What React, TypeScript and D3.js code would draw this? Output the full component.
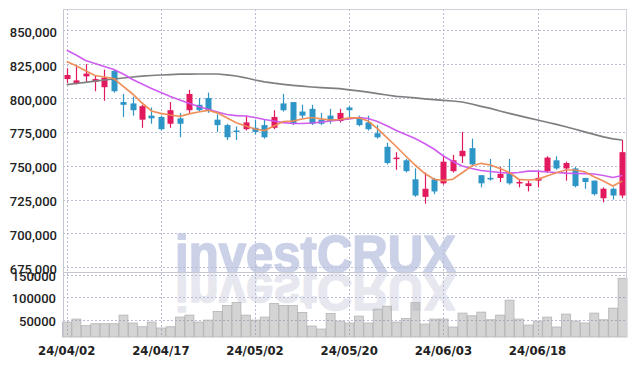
import React from 'react';
import * as d3 from 'd3';

const dates = [
  "24/04/02","24/04/03","24/04/04","24/04/05","24/04/08","24/04/09","24/04/11","24/04/12","24/04/15","24/04/16",
  "24/04/17","24/04/18","24/04/19","24/04/22","24/04/23","24/04/24","24/04/25","24/04/26","24/04/29","24/04/30",
  "24/05/02","24/05/03","24/05/07","24/05/08","24/05/09","24/05/10","24/05/13","24/05/14","24/05/16","24/05/17",
  "24/05/20","24/05/21","24/05/22","24/05/23","24/05/24","24/05/27","24/05/28","24/05/29","24/05/30","24/05/31",
  "24/06/03","24/06/04","24/06/05","24/06/07","24/06/10","24/06/11","24/06/12","24/06/13","24/06/14","24/06/17",
  "24/06/18","24/06/19","24/06/20","24/06/21","24/06/24","24/06/25","24/06/26","24/06/27","24/06/28","24/07/01",
];

const opens = [
  814000, 811000, 816000, 812000, 808000, 820000, 797000, 796000, 784000, 787000,
  786000, 781000, 785000, 791000, 795000, 800000, 784000, 780000, 776000, 777000,
  778000, 780000, 778000, 796000, 797000, 790000, 792000, 784000, 787000, 783000,
  793000, 786000, 782000, 774000, 764000, 755000, 754000, 740000, 727000, 740000,
  737000, 746000, 757000, 763000, 743000, 741000, 741000, 744000, 737000, 735000,
  739000, 746000, 754000, 748000, 748000, 741000, 739000, 726000, 733000, 728000,
];
const highs = [
  822000, 824000, 825000, 817000, 821000, 821000, 803000, 801000, 795000, 793000,
  787000, 797000, 789000, 806000, 800000, 804000, 788000, 781000, 779000, 787000,
  784000, 784000, 791000, 803000, 797000, 795000, 795000, 789000, 792000, 792000,
  794000, 787000, 787000, 780000, 767000, 760000, 755000, 748000, 745000, 741000,
  757000, 758000, 775000, 770000, 743000, 755000, 749000, 755000, 740000, 739000,
  746000, 757000, 757000, 753000, 749000, 741000, 739000, 734000, 734000, 769000,
];
const lows = [
  811000, 810000, 812000, 805000, 798000, 804000, 786000, 787000, 778000, 781000,
  776000, 778000, 771000, 789000, 790000, 789000, 775000, 769000, 769000, 776000,
  773000, 770000, 777000, 790000, 780000, 785000, 780000, 780000, 781000, 782000,
  786000, 779000, 776000, 770000, 751000, 747000, 745000, 727000, 722000, 729000,
  736000, 745000, 752000, 750000, 734000, 739000, 738000, 736000, 734000, 731000,
  734000, 745000, 747000, 739000, 734000, 733000, 728000, 723000, 725000, 726000,
];
const closes = [
  817000, 813000, 818000, 814000, 815000, 805000, 795000, 791000, 794000, 785000,
  777000, 791000, 781000, 803000, 791000, 791000, 780000, 771000, 775000, 782000,
  775000, 771000, 786000, 791000, 781000, 787000, 781000, 781000, 783000, 789000,
  791000, 780000, 777000, 771000, 752000, 756000, 746000, 728000, 733000, 731000,
  753000, 754000, 761000, 751000, 737000, 740000, 744000, 737000, 738000, 737000,
  741000, 756000, 748000, 752000, 735000, 738000, 729000, 733000, 728000, 760000,
];

const ma5 = [
  826960, 823860, 820170, 816620, 815520, 814410, 808650, 802960, 796320, 790410,
  788710, 787460, 786500, 788340, 789670, 790930, 789080, 785390, 781770, 779340,
  777120, 776010, 779340, 782660, 782880, 784500, 785610, 784650, 783770, 784130,
  785390, 785390, 783030, 777340, 770840, 764200, 757180, 750540, 744410, 739980,
  738940, 739980, 744850, 749800, 751790, 750540, 747950, 745000, 739980, 739460,
  739980, 742420, 744850, 746850, 746850, 745590, 741900, 738720, 735030, 738720,
];
const ma20 = [
  835230, 831760, 827700, 825490, 823270, 821050, 817730, 813670, 810350, 807030,
  804070, 801120, 798530, 796100, 793730, 791670, 789670, 787830, 786940, 786720,
  785610, 784130, 783030, 781770, 781180, 781180, 781550, 782140, 783030, 783770,
  784500, 785610, 784870, 782660, 779560, 776010, 773060, 770110, 766410, 762350,
  757180, 753120, 749800, 747950, 746480, 745740, 745000, 744480, 745000, 745960,
  745960, 745370, 745000, 744480, 744260, 744110, 743890, 742780, 741310, 742780,
];
const ma60 = [
  809830, 810720, 811600, 812420, 813300, 814040, 814780, 815520, 816110, 816620,
  816990, 817290, 817580, 817660, 817730, 817730, 817730, 817140, 816260, 814930,
  813300, 811970, 810940, 810130, 809390, 808720, 808130, 807620, 807250, 806880,
  806070, 805330, 804290, 803260, 802230, 801270, 800750, 800160, 799420, 798830,
  798310, 797800, 797060, 795580, 793880, 792330, 790410, 788710, 787010, 785390,
  783770, 782140, 780590, 778820, 776900, 775050, 773130, 771290, 769880, 769000,
];

const volumes = [
  44900, 51600, 36700, 41100, 41100, 41100, 60400, 42700, 34400, 44900,
  31600, 34400, 56000, 60400, 44900, 49300, 68400, 81800, 88400, 60400,
  49300, 56000, 86200, 81800, 81800, 66200, 36000, 29300, 64000, 47100,
  42700, 58200, 42700, 73800, 80400, 44900, 52900, 88400, 40400, 51600,
  51600, 33800, 64900, 58900, 67100, 50000, 60400, 93800, 51600, 38200,
  47100, 56000, 33800, 62700, 47100, 42700, 64900, 50000, 76000, 142700,
];

const priceTicks = [675000, 700000, 725000, 750000, 775000, 800000, 825000, 850000];
const volumeTicks = [50000, 100000, 150000];
const dateTicks = ["24/04/02", "24/04/17", "24/05/02", "24/05/20", "24/06/03", "24/06/18"];

const W = 636;
const H = 366;
const LEFT = 62;
const RIGHT = 627;
const TOP = 9;
const PRICE_BOTTOM = 272;
const VOL_TOP = 273;
const VOL_BOTTOM = 337;

const UP = '#e2195f';
const DOWN = '#2e95c7';
const GRID = '#b9bed6';

export default function App() {
  const idx = d3.range(dates.length);
  const x = d3.scaleBand<number>().domain(idx).range([LEFT, RIGHT]).padding(0);
  const bw = x.bandwidth();
  const cx = (i: number) => (x(i) as number) + bw / 2;
  const y = d3.scaleLinear().domain([671530, 865730]).range([PRICE_BOTTOM, TOP]);
  const yv = d3.scaleLinear().domain([11500, 154500]).range([VOL_BOTTOM, VOL_TOP]);
  const fmt = d3.format(',');

  const mkLine = (arr: number[]) =>
    d3.line<number>().x((_, i) => cx(i)).y((v) => y(v))(arr) || '';

  const bodyW = 6;
  const wmX = 175;
  const wmY = PRICE_BOTTOM;

  return (
    <svg width={W} height={H} style={{ position: 'absolute', left: 0, top: 0, background: '#fff' }}
      xmlns="http://www.w3.org/2000/svg">
      <rect x={0} y={0} width={W} height={H} fill="#fff" />
      {/* watermark */}
      <text x={wmX} y={wmY} fontFamily="'Liberation Sans', Arial, sans-serif" fontWeight={700}
        fontSize={51} textLength={281} lengthAdjust="spacingAndGlyphs" fill="#cbd1e7"
        stroke="#cbd1e7" strokeWidth={1.6} strokeLinejoin="round">investCRUX</text>
      <g transform={`translate(0, ${2 * wmY + 2}) scale(1,-1)`}>
        <text x={wmX} y={wmY} fontFamily="'Liberation Sans', Arial, sans-serif" fontWeight={700}
          fontSize={51} textLength={281} lengthAdjust="spacingAndGlyphs" fill="#e7e8ef"
          stroke="#e7e8ef" strokeWidth={1.6} strokeLinejoin="round">investCRUX</text>
      </g>

      {/* grid */}
      {priceTicks.map((t) => (
        <line key={'pg' + t} x1={LEFT + 1} x2={RIGHT} y1={Math.round(y(t)) + 0.5} y2={Math.round(y(t)) + 0.5}
          stroke={GRID} strokeDasharray="2,2" strokeWidth={1} />
      ))}
      {volumeTicks.map((t) => (
        <line key={'vg' + t} x1={LEFT + 1} x2={RIGHT} y1={Math.round(yv(t)) + 0.5} y2={Math.round(yv(t)) + 0.5}
          stroke={GRID} strokeDasharray="2,2" strokeWidth={1} />
      ))}
      {dateTicks.map((d) => {
        const i = dates.indexOf(d);
        const xx = Math.round(cx(i)) + 0.5;
        return (
          <line key={'xg' + d} x1={xx} x2={xx} y1={TOP} y2={VOL_BOTTOM}
            stroke={GRID} strokeDasharray="2,2" strokeWidth={1} />
        );
      })}

      {/* volume bars */}
      {volumes.map((v, i) => (
        <rect key={'v' + i} x={(x(i) as number) + 0.5} y={yv(v)} width={bw - 0.5}
          height={VOL_BOTTOM - yv(v)} fill="#8e8e8e" fillOpacity={0.38} stroke="#b4b4b4" strokeWidth={0.8} />
      ))}

      {/* candles */}
      {idx.map((i) => {
        const o = opens[i], c = closes[i], h = highs[i], l = lows[i];
        const col = c >= o ? UP : DOWN;
        const xx = Math.round(cx(i)) + 0.5;
        const top = y(Math.max(o, c));
        const bot = y(Math.min(o, c));
        const bh = Math.max(1.5, bot - top);
        return (
          <g key={'c' + i}>
            <line x1={xx} x2={xx} y1={y(h)} y2={y(l)} stroke={col} strokeWidth={1.2} />
            <rect x={xx - bodyW / 2} y={top} width={bodyW} height={bh} fill={col} />
          </g>
        );
      })}

      {/* moving averages */}
      <path d={mkLine(ma60)} fill="none" stroke="#7f7f7f" strokeWidth={1.7} />
      <path d={mkLine(ma20)} fill="none" stroke="#cc55ee" strokeWidth={1.7} strokeOpacity={0.95} />
      <path d={mkLine(ma5)} fill="none" stroke="#ee8a52" strokeWidth={1.7} strokeOpacity={0.95} />

      {/* frame */}
      <line x1={63.5} x2={63.5} y1={TOP} y2={VOL_BOTTOM} stroke="#c4c6d0" strokeWidth={1} />
      <line x1={RIGHT - 0.5} x2={RIGHT - 0.5} y1={TOP} y2={VOL_BOTTOM} stroke="#d0d2da" strokeWidth={1} />
      <line x1={63} x2={RIGHT} y1={TOP + 0.5} y2={TOP + 0.5} stroke="#d0d2da" strokeWidth={1} />
      <line x1={63} x2={RIGHT} y1={PRICE_BOTTOM + 0.5} y2={PRICE_BOTTOM + 0.5} stroke="#c4c6d0" strokeWidth={1} />

      {/* y labels */}
      {priceTicks.map((t) => (
        <text key={'pl' + t} x={57} y={y(t) + 2} textAnchor="end" dominantBaseline="central"
          fontFamily="Roboto, sans-serif" fontWeight={500} fontSize={13} fill="#222">{fmt(t)}</text>
      ))}
      {volumeTicks.map((t) => (
        <text key={'vl' + t} x={56} y={yv(t) + 1.5} textAnchor="end" dominantBaseline="central"
          fontFamily="Roboto, sans-serif" fontWeight={500} fontSize={13} fill="#222">{String(t)}</text>
      ))}
      {/* x labels */}
      {dateTicks.map((d) => {
        const i = dates.indexOf(d);
        return (
          <text key={'xl' + d} x={cx(i)} y={355} textAnchor="middle"
            fontFamily="'DejaVu Sans Condensed', 'Liberation Sans Narrow', Roboto, sans-serif"
            fontWeight={700} fontSize={13} fill="#222">{d}</text>
        );
      })}
    </svg>
  );
}
